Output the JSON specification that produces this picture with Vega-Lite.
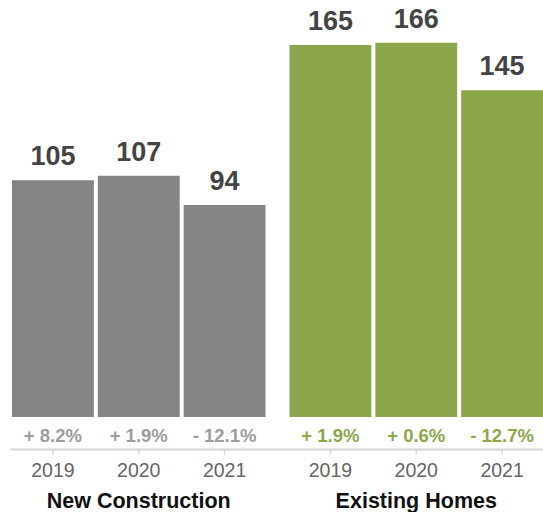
{
  "$schema": "https://vega.github.io/schema/vega-lite/v6.json",
  "width": 533,
  "height": 417,
  "padding": {"left": 10, "top": 0, "right": 0, "bottom": 0},
  "config": {"view": {"stroke": null}, "font": "Liberation Sans"},
  "data": {
    "values": [
      {"group": "New Construction", "year": "2019", "value": 105, "change": "+ 8.2%"},
      {"group": "New Construction", "year": "2020", "value": 107, "change": "+ 1.9%"},
      {"group": "New Construction", "year": "2021", "value": 94, "change": "- 12.1%"},
      {"group": "Existing Homes", "year": "2019", "value": 165, "change": "+ 1.9%"},
      {"group": "Existing Homes", "year": "2020", "value": 166, "change": "+ 0.6%"},
      {"group": "Existing Homes", "year": "2021", "value": 145, "change": "- 12.7%"}
    ]
  },
  "encoding": {
    "x": {
      "field": "group",
      "type": "nominal",
      "sort": ["New Construction", "Existing Homes"],
      "scale": {"paddingInner": 0.0866, "paddingOuter": 0.0036, "align": 1},
      "axis": {
        "title": null,
        "labelAngle": 0,
        "labelLimit": 0,
        "ticks": false,
        "tickSize": 0,
        "domainColor": "#d3d3d3",
        "domainWidth": 2,
        "offset": 32,
        "labelPadding": 58,
        "labelBaseline": "alphabetic",
        "labelFontSize": 21.5,
        "labelFontWeight": "bold",
        "labelColor": "#111111",
        "labelFont": "Liberation Sans"
      }
    },
    "xOffset": {"field": "year", "type": "nominal", "scale": {"paddingInner": 0.0465, "paddingOuter": 0}}
  },
  "layer": [
    {
      "mark": {"type": "bar"},
      "encoding": {
        "y": {"field": "value", "type": "quantitative", "scale": {"domain": [0, 185], "nice": false}, "axis": null},
        "color": {
          "field": "group",
          "type": "nominal",
          "scale": {"domain": ["New Construction", "Existing Homes"], "range": ["#848484", "#8ca64c"]},
          "legend": null
        }
      }
    },
    {
      "mark": {"type": "text", "baseline": "alphabetic", "dy": -15, "fontSize": 27, "fontWeight": "bold", "color": "#444444"},
      "encoding": {
        "y": {"field": "value", "type": "quantitative"},
        "text": {"field": "value", "type": "quantitative"}
      }
    },
    {
      "mark": {"type": "text", "baseline": "alphabetic", "dy": 25, "fontSize": 18.5, "fontWeight": "bold"},
      "encoding": {
        "y": {"datum": 0},
        "text": {"field": "change"},
        "color": {
          "field": "group",
          "type": "nominal",
          "scale": {"domain": ["New Construction", "Existing Homes"], "range": ["#9c9c9c", "#8ca64c"]},
          "legend": null
        }
      }
    },
    {
      "mark": {"type": "tick", "orient": "vertical", "size": 6, "thickness": 1.5, "color": "#cccccc", "yOffset": 35},
      "encoding": {"y": {"datum": 0}}
    },
    {
      "mark": {"type": "text", "baseline": "alphabetic", "dy": 60, "fontSize": 19.5, "color": "#666666"},
      "encoding": {
        "y": {"datum": 0},
        "text": {"field": "year"}
      }
    }
  ],
  "resolve": {"scale": {"color": "independent"}}
}
